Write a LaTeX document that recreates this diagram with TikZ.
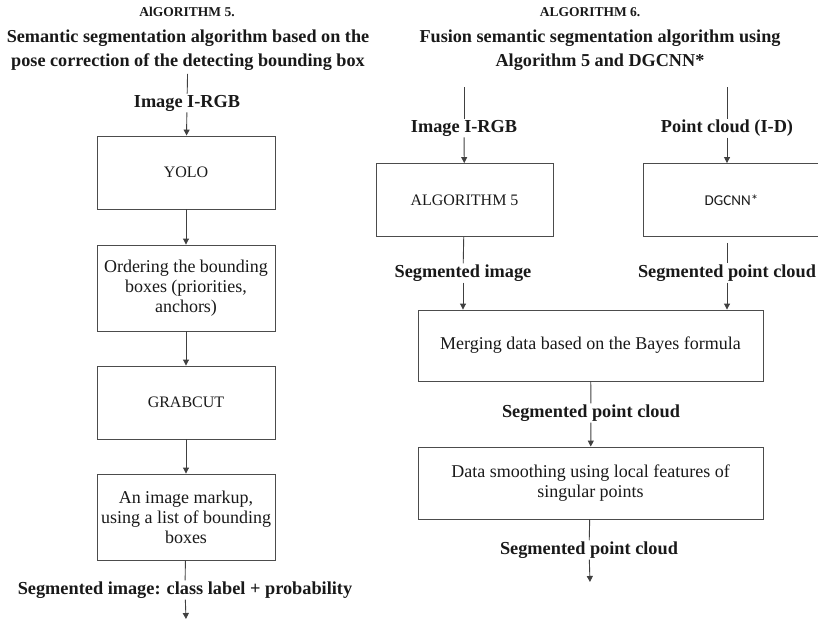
\documentclass[tikz,border=0pt]{standalone}
\usepackage{fontspec}
\setmainfont{Liberation Serif}
\newfontfamily\calib{Carlito}
\usetikzlibrary{arrows.meta}
\begin{document}
\begin{tikzpicture}[x=1pt, y=-1pt,
  every node/.style={text=black!90},
  box/.style={draw=black!70, line width=0.9pt, align=center, inner sep=2pt},
  lbl/.style={font=\fontsize{18.3}{20}\selectfont\bfseries, inner sep=1pt},
  head/.style={font=\fontsize{13.5}{16}\selectfont\bfseries},
  title/.style={font=\fontsize{18.2}{24}\selectfont\bfseries, align=center},
  txt/.style={font=\fontsize{18}{20}\selectfont},
  captxt/.style={font=\fontsize{16}{19}\selectfont},
  ln/.style={draw=black!75, line width=0.9pt},
  arr/.style={draw=black!75, line width=0.9pt, -{Triangle[length=6pt,width=6pt]}}]
\useasboundingbox (0,0) rectangle (818,625);

% algorithm 5
\node[head] (h5) at (187,12) {AlGORITHM 5.};
\node[title] (t5) at (188,50) {Semantic segmentation algorithm based on the\\pose correction of the detecting bounding box};
\node[lbl] (img5) at (187,103) {Image I-RGB};
\node[box, captxt, minimum width=178pt, minimum height=73pt] (yolo) at (186,172.5) {YOLO};
\node[box, txt, minimum width=178pt, minimum height=86pt] (order) at (186,288) {Ordering the bounding\\boxes (priorities,\\anchors)};
\node[box, captxt, minimum width=178pt, minimum height=73pt] (grab) at (186,402.5) {GRABCUT};
\node[box, txt, minimum width=178pt, minimum height=86pt] (markup) at (186,517) {An image markup,\\using a list of bounding\\boxes};
\node[lbl] (res5) at (185,590) {Segmented image: class label + probability};
\coordinate (end5) at (186,619);

\draw[ln] (t5) -- (img5);
\draw[arr] (img5) -- (yolo);
\draw[arr] (yolo) -- (order);
\draw[arr] (order) -- (grab);
\draw[arr] (grab) -- (markup);
\draw[ln] (markup) -- (res5);
\draw[arr] (res5) -- (end5);

% algorithm 6
\node[head] (h6) at (590,12) {ALGORITHM 6.};
\node[title] (t6) at (600,50) {Fusion semantic segmentation algorithm using\\Algorithm 5 and DGCNN*};
\coordinate (in1) at (464,87);
\coordinate (in2) at (727,87);
\node[lbl] (img6) at (464,128) {Image I-RGB};
\node[lbl] (pc) at (727,128) {Point cloud (I-D)};
\node[box, captxt, minimum width=177pt, minimum height=73pt] (alg5) at (464.5,200) {ALGORITHM 5};
\node[box, font=\calib\fontsize{15}{18}\selectfont, minimum width=177pt, minimum height=73pt] (dg) at (731.5,200) {DGCNN*};
\node[lbl] (seg1) at (463,273) {Segmented image};
\node[lbl] (seg2) at (727,273) {Segmented point cloud};
\node[box, txt, minimum width=345pt, minimum height=71pt] (merge) at (590.5,345.5) {Merging data based on the Bayes formula};
\node[lbl] (seg3) at (591,413) {Segmented point cloud};
\node[box, txt, minimum width=345pt, minimum height=72pt] (smooth) at (590.5,483) {Data smoothing using local features of\\singular points};
\node[lbl] (seg4) at (589,550) {Segmented point cloud};
\coordinate (end6) at (590,582);

\draw[ln] (in1) -- (img6);
\draw[ln] (in2) -- (pc);
\draw[arr] (img6) -- (alg5);
\draw[arr] (pc) -- (pc |- dg.north);
\draw[ln] (alg5) -- (seg1);
\draw[ln] (seg2 |- dg.south) ++(0,6) -- (seg2);
\draw[arr] (seg1) -- (seg1 |- merge.north);
\draw[arr] (seg2) -- (seg2 |- merge.north);
\draw[ln] (merge) -- (seg3);
\draw[arr] (seg3) -- (smooth);
\draw[ln] (smooth) -- (seg4);
\draw[arr] (seg4) -- (end6);
\end{tikzpicture}
\end{document}
